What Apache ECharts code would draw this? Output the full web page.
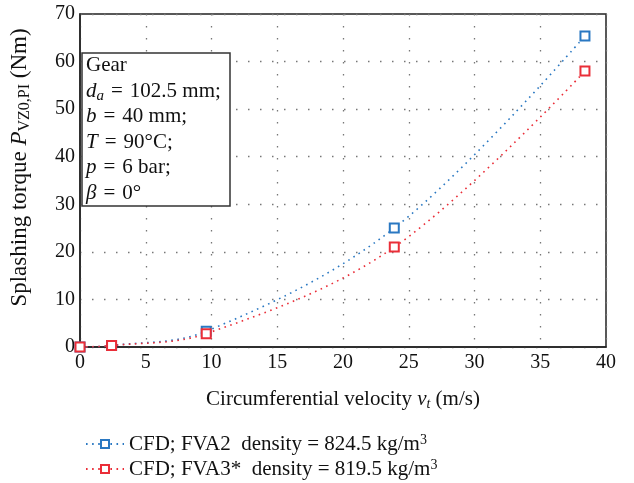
<!DOCTYPE html>
<html><head><meta charset="utf-8">
<script src="https://cdn.jsdelivr.net/npm/echarts@6/dist/echarts.min.js"></script>
<style>html,body{margin:0;padding:0;background:#fff}#c{width:634px;height:483px}</style>
</head><body><div id="c"></div>
<script>
var velocity = [0, 2.4, 9.6, 23.9, 38.4];
var torqueFVA2 = [0, 0.3, 3.3, 25.0, 65.4];
var torqueFVA3 = [0, 0.3, 2.8, 21.0, 58.0];
var seriesNames = ['CFD; FVA2  density = 824.5 kg/m{sup|3}', 'CFD; FVA3*  density = 819.5 kg/m{sup|3}'];
var xTicks = [0, 5, 10, 15, 20, 25, 30, 35, 40];
var yTicks = [0, 10, 20, 30, 40, 50, 60, 70];

var FONT = '"Liberation Serif", "DejaVu Serif", serif';
var BLUE = '#2a78c2', RED = '#ea2e38';
function pairs(xs, ys){ return xs.map(function(x,i){return [x, ys[i]];}); }

var chart = echarts.init(document.getElementById('c'));
chart.setOption({
  animation: false,
  backgroundColor: '#fff',
  grid: {left: 80, right: 28, top: 14, bottom: 136, show: true, borderColor: '#222', borderWidth: 1.5,
         backgroundColor: 'transparent', containLabel: false, outerBoundsMode: 'none'},
  title: {
    left: 82, top: 53,
    text: 'Gear\n{i|d}{sub|a}{eq|=}102.5 mm;\n{i|b}{eq|=}40 mm;\n{i|T}{eq|=}90°C;\n{i|p}{eq|=}6 bar;\n{i|β}{eq|=}0°',
    borderColor: '#333', borderWidth: 1.5, backgroundColor: '#fff',
    padding: [0, 9, 0, 4],
    textStyle: {fontFamily: FONT, fontSize: 21, fontWeight: 'normal', color: '#111', lineHeight: 25.5,
      rich: {
        i: {fontFamily: FONT, fontSize: 21, fontStyle: 'italic', color: '#111', lineHeight: 25.5},
        eq: {fontFamily: FONT, fontSize: 21, color: '#111', lineHeight: 25.5, padding: [0, 7, 0, 7]},
        sub: {fontFamily: FONT, fontSize: 15, fontStyle: 'italic', color: '#111', verticalAlign: 'bottom', padding: [9, 0, 0, 0], lineHeight: 25.5}
      }}
  },
  legend: {
    orient: 'vertical', left: 80, top: 428, height: 55, itemGap: 3, itemWidth: 38, itemHeight: 10,
    data: [seriesNames[0], seriesNames[1]],
    textStyle: {fontFamily: FONT, fontSize: 21, color: '#111', lineHeight: 22,
      rich: {sup: {fontFamily: FONT, fontSize: 14, color: '#111', verticalAlign: 'top', padding: [0, 0, 8, 0], lineHeight: 22}}}
  },
  xAxis: {
    type: 'value', min: 0, max: 40, interval: 5,
    name: 'Circumferential velocity {i|v}{sub|t} (m/s)', nameLocation: 'middle', nameGap: 40,
    nameTextStyle: {fontFamily: FONT, fontSize: 21, color: '#111',
      rich: {i: {fontFamily: FONT, fontSize: 21, fontStyle: 'italic', color: '#111'},
             sub: {fontFamily: FONT, fontSize: 14, fontStyle: 'italic', color: '#111', verticalAlign: 'bottom', padding: [10, 0, 0, 0]}}},
    axisLine: {show: true, lineStyle: {color: '#222', width: 1.5}},
    axisTick: {show: false},
    axisLabel: {fontFamily: FONT, fontSize: 20, color: '#111', margin: 6,
      formatter: function(v){ return xTicks.indexOf(v) >= 0 ? String(v) : ''; }},
    splitLine: {show: true, lineStyle: {color: '#777', width: 1.3, type: [1.5, 10.5]}}
  },
  yAxis: {
    type: 'value', min: 0, max: 70, interval: 10,
    name: 'Splashing torque {i|P}{sub|VZ0,PI} (Nm)', nameLocation: 'middle', nameGap: 47, nameRotate: 90,
    nameTextStyle: {fontFamily: FONT, fontSize: 23, color: '#111', padding: [0, 0, 0, 26],
      rich: {i: {fontFamily: FONT, fontSize: 23, fontStyle: 'italic', color: '#111'},
             sub: {fontFamily: FONT, fontSize: 16, color: '#111', verticalAlign: 'bottom', padding: [10, 0, 0, 0]}}},
    axisLine: {show: true, lineStyle: {color: '#222', width: 1.5}},
    axisTick: {show: false},
    axisLabel: {fontFamily: FONT, fontSize: 20, color: '#111', margin: 5,
      formatter: function(v){ return yTicks.indexOf(v) >= 0 ? String(v) : ''; }},
    splitLine: {show: true, lineStyle: {color: '#777', width: 1.3, type: [1.5, 10.5]}}
  },
  series: [
    {name: seriesNames[0], type: 'line', data: pairs(velocity, torqueFVA2), smooth: 0.35,
     symbol: 'rect', symbolSize: 9, showAllSymbol: true,
     lineStyle: {color: BLUE, width: 1.6, type: [1.6, 4.5]},
     itemStyle: {color: '#fff', borderColor: BLUE, borderWidth: 2}},
    {name: seriesNames[1], type: 'line', data: pairs(velocity, torqueFVA3), smooth: 0.35,
     symbol: 'rect', symbolSize: 9, showAllSymbol: true,
     lineStyle: {color: RED, width: 1.6, type: [1.6, 4.5]},
     itemStyle: {color: '#fff', borderColor: RED, borderWidth: 2}}
  ]
});
</script></body></html>
